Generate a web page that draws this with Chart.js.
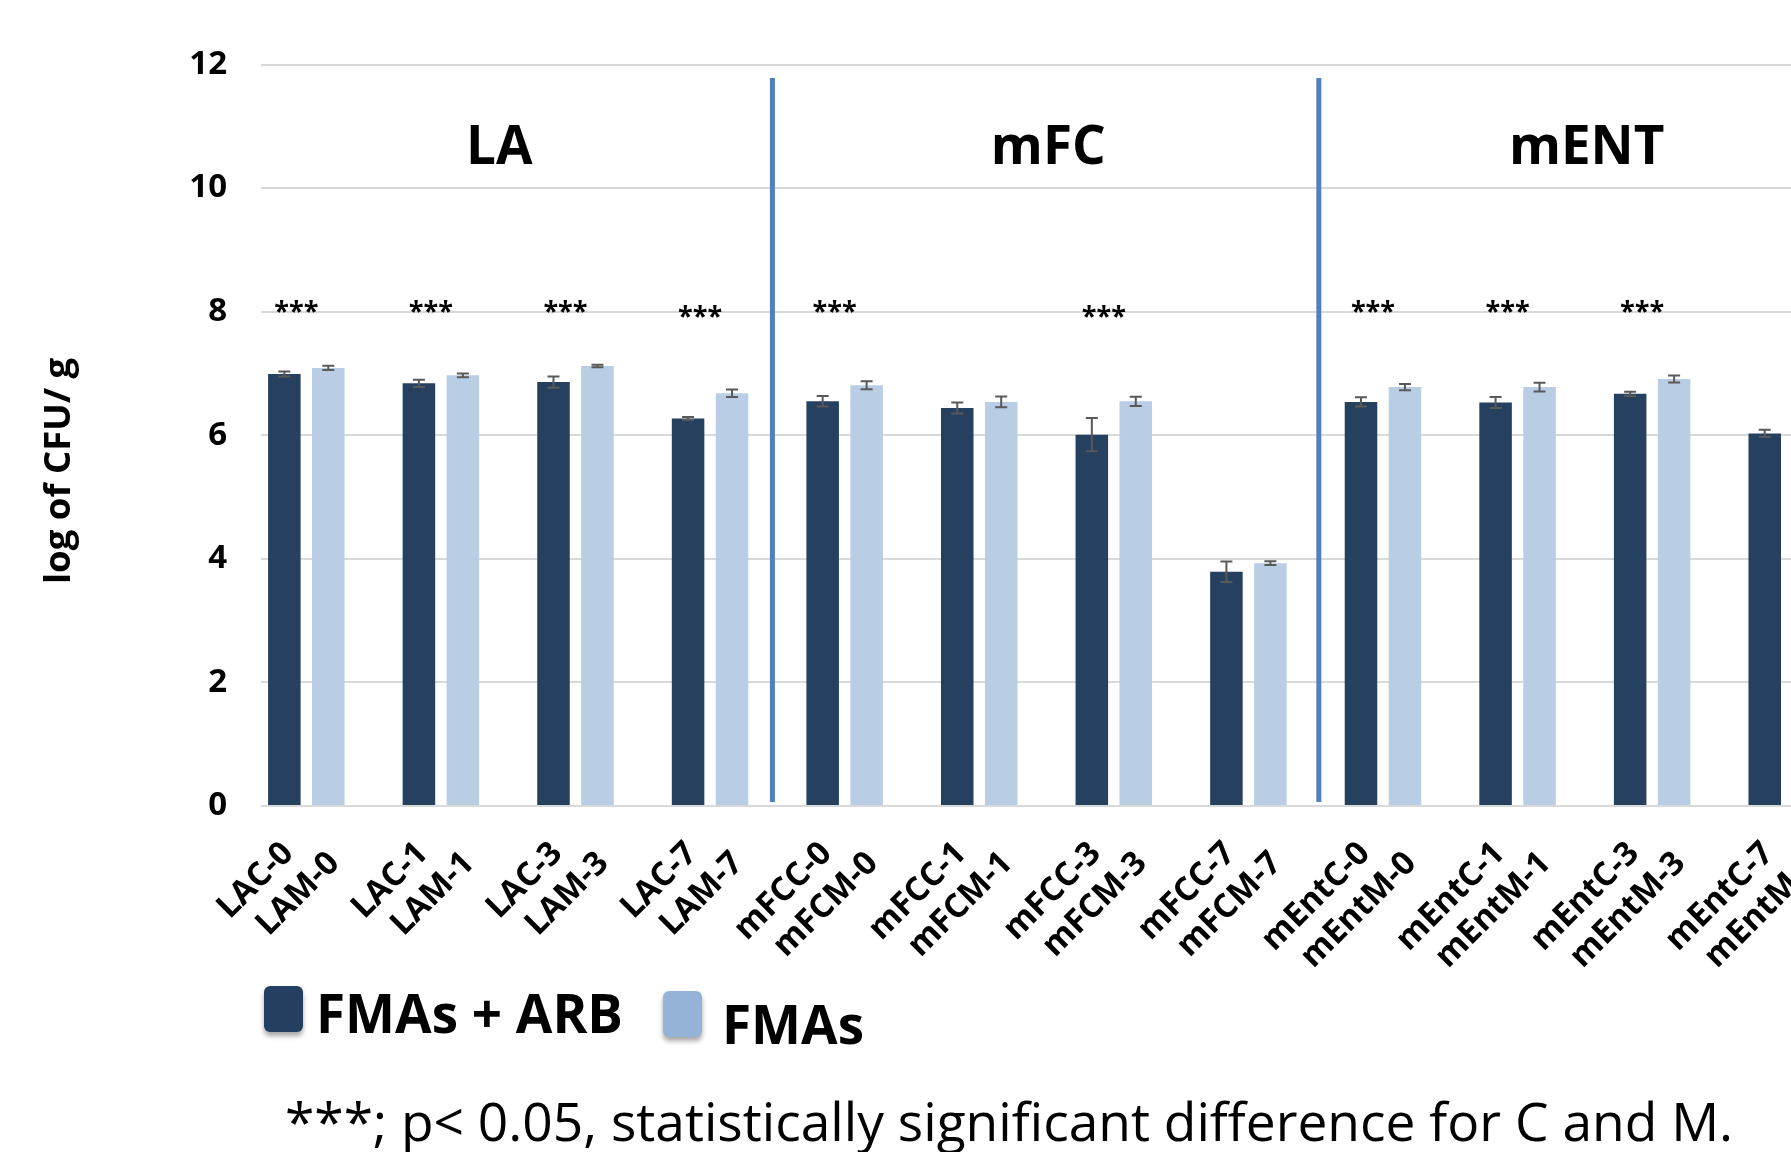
<!DOCTYPE html>
<html>
<head>
<meta charset="utf-8">
<script src="https://cdn.jsdelivr.net/npm/chart.js@4.4.1/dist/chart.umd.min.js"></script>
<style>
html,body{margin:0;padding:0;background:#fff;overflow:hidden;width:1791px;height:1152px}
#wrap{position:relative;width:1791px;height:1152px;overflow:hidden;background:#fff}
#wrap canvas{position:absolute;left:0;top:0}
</style>
</head>
<body>
<div id="wrap"><canvas id="c" width="1900" height="1152"></canvas></div>
<script>
// ---- data ----
const categories = [
  ['LAC-0','LAM-0'], ['LAC-1','LAM-1'], ['LAC-3','LAM-3'], ['LAC-7','LAM-7'],
  ['mFCC-0','mFCM-0'], ['mFCC-1','mFCM-1'], ['mFCC-3','mFCM-3'], ['mFCC-7','mFCM-7'],
  ['mEntC-0','mEntM-0'], ['mEntC-1','mEntM-1'], ['mEntC-3','mEntM-3'], ['mEntC-7','mEntM-7']
];
const seriesNames = ['FMAs + ARB', 'FMAs'];
const arbValues  = [6.99, 6.84, 6.86, 6.27, 6.55, 6.44, 6.01, 3.79, 6.54, 6.53, 6.67, 6.03];
const arbErrors  = [0.04, 0.06, 0.09, 0.025, 0.085, 0.09, 0.27, 0.165, 0.073, 0.09, 0.035, 0.06];
const fmasValues = [7.09, 6.97, 7.12, 6.68, 6.81, 6.54, 6.55, 3.93, 6.78, 6.78, 6.91, 6.30];
const fmasErrors = [0.035, 0.03, 0.02, 0.06, 0.065, 0.086, 0.075, 0.03, 0.05, 0.07, 0.055, 0.05];
const emptySlot  = [null, null, null, null, null, null, null, null, null, null, null, null];
const significance = ['***', '***', '***', '***', '***', '', '***', '', '***', '***', '***', ''];
const significanceLevel = [8.08, 8.08, 8.08, 8.01, 8.08, null, 8.01, null, 8.08, 8.08, 8.08, null];
const groupTitles = ['LA', 'mFC', 'mENT'];
const yTicks = [0, 2, 4, 6, 8, 10, 12];
const yAxisTitle = 'log of CFU/ g';
const footnote = '***; p< 0.05, statistically significant difference for C and M.';

const FONT = "'Open Sans', 'DejaVu Sans', sans-serif";

const overlay = {
  id: 'overlay',
  afterDatasetsDraw(chart, args, opts) {
    const {ctx, chartArea, scales: {x, y}} = chart;
    ctx.save();
    // group separators
    ctx.strokeStyle = '#4F81BD';
    ctx.lineWidth = 5;
    opts.separators.forEach(v => {
      const px = x.getPixelForValue(v);
      ctx.beginPath();
      ctx.moveTo(px, y.getPixelForValue(11.78));
      ctx.lineTo(px, chartArea.bottom - 4);
      ctx.stroke();
    });
    // error bars
    ctx.strokeStyle = '#595959';
    ctx.lineWidth = 2;
    chart.data.datasets.forEach((ds, di) => {
      if (!ds.errors) return;
      const meta = chart.getDatasetMeta(di);
      meta.data.forEach((bar, i) => {
        const v = ds.data[i], e = ds.errors[i];
        if (v == null || e == null) return;
        const top = y.getPixelForValue(v + e), bot = y.getPixelForValue(v - e);
        ctx.beginPath();
        ctx.moveTo(bar.x, top); ctx.lineTo(bar.x, bot);
        ctx.moveTo(bar.x - 6, top); ctx.lineTo(bar.x + 6, top);
        ctx.moveTo(bar.x - 6, bot); ctx.lineTo(bar.x + 6, bot);
        ctx.stroke();
      });
    });
    const m0 = chart.getDatasetMeta(0).data, m1 = chart.getDatasetMeta(1).data;
    const pairCenter = i => (m0[i].x + m1[i].x) / 2;
    // significance marks
    ctx.fillStyle = '#000';
    ctx.font = 'bold 27px ' + FONT;
    ctx.textAlign = 'center';
    ctx.textBaseline = 'middle';
    significance.forEach((s, i) => {
      if (!s) return;
      ctx.fillText(s, pairCenter(i) - 10, y.getPixelForValue(significanceLevel[i]) + 6);
    });
    // group titles
    ctx.font = 'bold 53px ' + FONT;
    ctx.textBaseline = 'alphabetic';
    groupTitles.forEach((t, g) => {
      ctx.fillText(t, x.getPixelForValue(opts.titleAt[g]), 164);
    });
    ctx.restore();
  },
  afterDraw(chart) {
    const {ctx} = chart;
    ctx.save();
    // y axis title
    ctx.fillStyle = '#000';
    ctx.font = 'bold 36.5px ' + FONT;
    ctx.textAlign = 'center';
    ctx.textBaseline = 'middle';
    ctx.translate(60, 471);
    ctx.rotate(-Math.PI / 2);
    ctx.fillText(yAxisTitle, 0, 0);
    ctx.restore();
    // legend
    const items = [
      {ds: chart.data.datasets[0], box: [264, 986, 39, 46], tx: 316, ty: 1033},
      {ds: chart.data.datasets[1], box: [663, 991, 39, 46], tx: 722, ty: 1044}
    ];
    items.forEach(it => {
      ctx.save();
      ctx.shadowColor = 'rgba(0,0,0,0.35)';
      ctx.shadowBlur = 5;
      ctx.shadowOffsetY = 4;
      ctx.fillStyle = it.ds.legendColor;
      const [bx, by, bw, bh] = it.box;
      ctx.beginPath();
      ctx.roundRect(bx, by, bw, bh, 6);
      ctx.fill();
      ctx.restore();
      ctx.save();
      ctx.fillStyle = '#000';
      ctx.font = 'bold 53px ' + FONT;
      ctx.textAlign = 'left';
      ctx.textBaseline = 'alphabetic';
      ctx.fillText(it.ds.label, it.tx, it.ty);
      ctx.restore();
    });
    // footnote
    ctx.save();
    ctx.fillStyle = '#000';
    ctx.font = '53.3px ' + FONT;
    ctx.textAlign = 'left';
    ctx.textBaseline = 'alphabetic';
    ctx.fillText(footnote, 285, 1141);
    ctx.restore();
  }
};

new Chart(document.getElementById('c'), {
  type: 'bar',
  data: {
    labels: categories,
    datasets: [
      {label: seriesNames[0], data: arbValues, errors: arbErrors, backgroundColor: '#26405F', legendColor: '#243F60'},
      {label: seriesNames[1], data: fmasValues, errors: fmasErrors, backgroundColor: '#B9CDE5', legendColor: '#95B3D7'},
      {label: 'slot', data: emptySlot, backgroundColor: 'rgba(0,0,0,0)'}
    ]
  },
  options: {
    responsive: false,
    animation: false,
    devicePixelRatio: 1,
    barPercentage: 0.74,
    categoryPercentage: 0.98,
    layout: {padding: {top: 64.5, left: 0, right: 24, bottom: 0}},
    plugins: {
      legend: {display: false},
      tooltip: {enabled: false},
      overlay: {separators: [3.3, 7.36], titleAt: [1.27, 5.35, 9.35]}
    },
    scales: {
      x: {
        offset: true,
        grid: {display: false},
        border: {display: false},
        ticks: {
          autoSkip: false, maxRotation: 45, minRotation: 45,
          color: '#000', padding: 2, labelOffset: -22,
          font: {family: FONT, size: 33, weight: 'bold', lineHeight: 1.2},
          callback(value, index) {
            const lines = categories[index];
            return [lines[0] + '   ', lines[1]];
          }
        },
        afterFit(s) { s.height = 346; }
      },
      y: {
        min: 0, max: 12,
        afterBuildTicks(s) { s.ticks = yTicks.map(v => ({value: v})); },
        grid: {color: '#D9D9D9', lineWidth: 2, drawTicks: false},
        border: {display: false},
        ticks: {color: '#000', padding: 34, font: {family: FONT, size: 33, weight: 'bold'}},
        afterFit(s) { s.width = 261; }
      }
    }
  },
  plugins: [overlay]
});
</script>
</body>
</html>
